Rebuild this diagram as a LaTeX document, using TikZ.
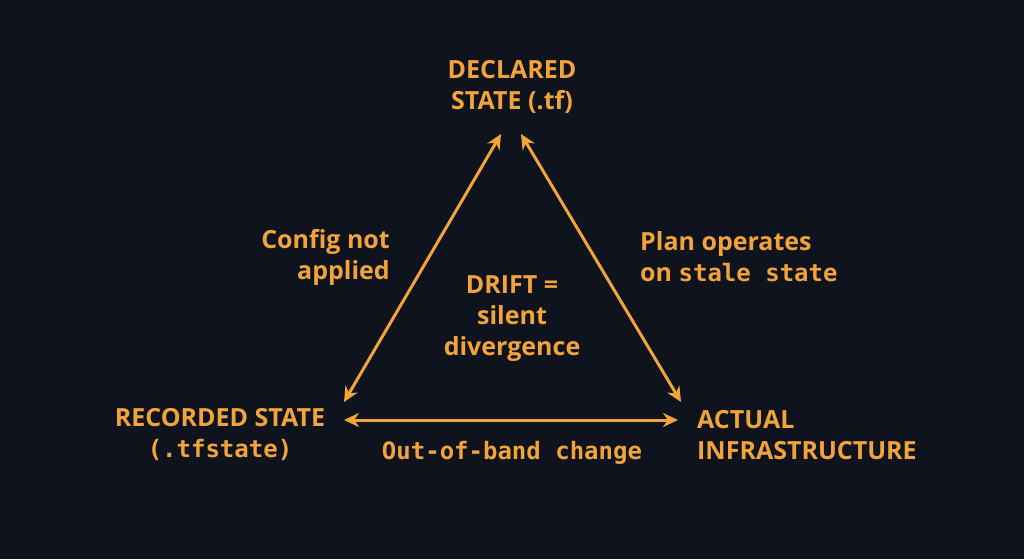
\documentclass[tikz,border=0pt]{standalone}
\usepackage{fontspec}
\setmainfont{Open Sans}
\setmonofont{DejaVu Sans Mono}
\usetikzlibrary{arrows.meta}
\definecolor{bgdark}{HTML}{0E131E}
\definecolor{amber}{HTML}{F2A33A}
\begin{document}
\begin{tikzpicture}[x=1pt,y=-1pt]
\tikzset{LabelStyle/.style = {text = amber, font = \bfseries\fontsize{25}{31}\selectfont, align = center, inner sep = 0pt},
 ArrowStyle/.style = {draw = amber, line width = 3pt, {Stealth[length=15pt,width=14pt]}-{Stealth[length=15pt,width=14pt]}}}
\fill[bgdark] (0,0) rectangle (1024,559);
\useasboundingbox (0,0) rectangle (1024,559);

\node[LabelStyle] (DECL) at (512,87) {DECLARED\\STATE (.tf)};
\node[LabelStyle] (REC) at (220,435) {RECORDED STATE\\\texttt{\fontsize{24}{31}\selectfont(.tfstate)}};
\node[LabelStyle, align=left, anchor=west] (ACT) at (697,435) {ACTUAL\\INFRASTRUCTURE};

\coordinate (T_L) at (501,134);
\coordinate (T_R) at (521,134);
\coordinate (L_T) at (344,402);
\coordinate (L_R) at (344,420);
\coordinate (R_T) at (681,402);
\coordinate (R_L) at (678,420);

\draw[ArrowStyle] (T_L) -- (L_T);
\draw[ArrowStyle] (T_R) -- (R_T);
\draw[ArrowStyle] (L_R) -- (R_L);

\node[LabelStyle, align=right, anchor=east] (CFG) at (390,257) {Config not\\applied};
\node[LabelStyle, align=left, anchor=west] (PLAN) at (640,257) {Plan operates\\on \texttt{\fontsize{24}{31}\selectfont stale state}};
\node[LabelStyle] (DRIFT) at (512,319) {DRIFT =\\silent\\divergence};
\node[LabelStyle] (OOB) at (512,453) {\texttt{\fontsize{24}{31}\selectfont Out-of-band change}};
\end{tikzpicture}
\end{document}
